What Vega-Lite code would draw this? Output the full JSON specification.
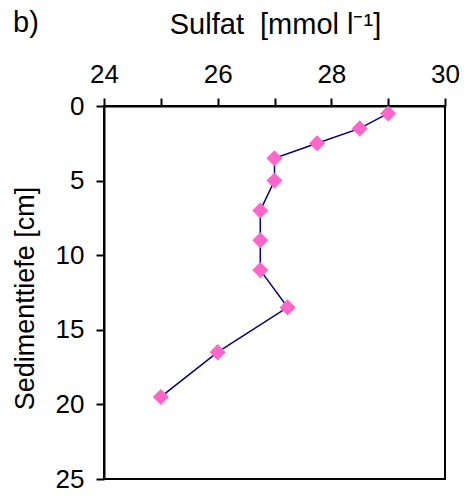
{
  "$schema": "https://vega.github.io/schema/vega-lite/v6.json",
  "width": 341,
  "height": 373,
  "autosize": "none",
  "padding": {"left": 104, "top": 106, "right": 24, "bottom": 20},
  "background": "white",
  "title": {"text": "b)", "anchor": "start", "frame": "group", "dx": -91, "dy": 51, "offset": 0, "baseline": "alphabetic", "fontSize": 29, "font": "Liberation Sans", "fontWeight": "normal", "color": "black"},
  "config": {
    "view": {"stroke": "black", "strokeWidth": 2},
    "axis": {"labelFont": "Liberation Sans", "titleFont": "Liberation Sans", "labelColor": "black", "titleColor": "black", "domainColor": "black", "tickColor": "black", "grid": false, "titleFontWeight": "normal"}
  },
  "data": {"values": [
    {"depth": 0.5, "sulfat": 29.0},
    {"depth": 1.5, "sulfat": 28.5},
    {"depth": 2.5, "sulfat": 27.75},
    {"depth": 3.5, "sulfat": 27.0},
    {"depth": 5.0, "sulfat": 27.0},
    {"depth": 7.0, "sulfat": 26.75},
    {"depth": 9.0, "sulfat": 26.75},
    {"depth": 11.0, "sulfat": 26.75},
    {"depth": 13.5, "sulfat": 27.23},
    {"depth": 16.5, "sulfat": 26.0},
    {"depth": 19.5, "sulfat": 25.0}
  ]},
  "encoding": {
    "x": {"field": "sulfat", "type": "quantitative", "scale": {"domain": [24, 30], "nice": false, "zero": false},
      "axis": {"orient": "top", "values": [24, 25, 26, 27, 28, 29, 30], "labelExpr": "datum.value % 2 == 0 ? datum.label : ''", "labelFontSize": 26, "labelBaseline": "alphabetic", "labelPadding": 16, "tickSize": 8, "tickWidth": 2, "domainWidth": 2,
        "title": "Sulfat\u00a0\u00a0[mmol l\u207b\u00b9]", "titleFontSize": 29, "titleX": 171, "titleY": -73, "titleBaseline": "alphabetic", "titleAlign": "center", "labelFlush": false, "labelOverlap": false}},
    "y": {"field": "depth", "type": "quantitative", "scale": {"domain": [0, 25], "reverse": true, "nice": false, "zero": false},
      "axis": {"values": [0, 5, 10, 15, 20, 25], "labelFontSize": 26, "labelPadding": 12, "tickSize": 8, "tickWidth": 2, "domainWidth": 2, "labelFlush": false, "labelOverlap": false,
        "title": "Sedimenttiefe [cm]", "titleFontSize": 27, "titleX": -71, "titleY": 192, "titleAngle": -90, "titleBaseline": "alphabetic", "titleAlign": "center"}},
    "order": {"field": "depth", "type": "quantitative"}
  },
  "layer": [
    {"mark": {"type": "line", "color": "#000080", "strokeWidth": 1.5}},
    {"mark": {"type": "point", "shape": "diamond", "filled": true, "color": "#FF66CC", "size": 260, "opacity": 1}}
  ]
}
